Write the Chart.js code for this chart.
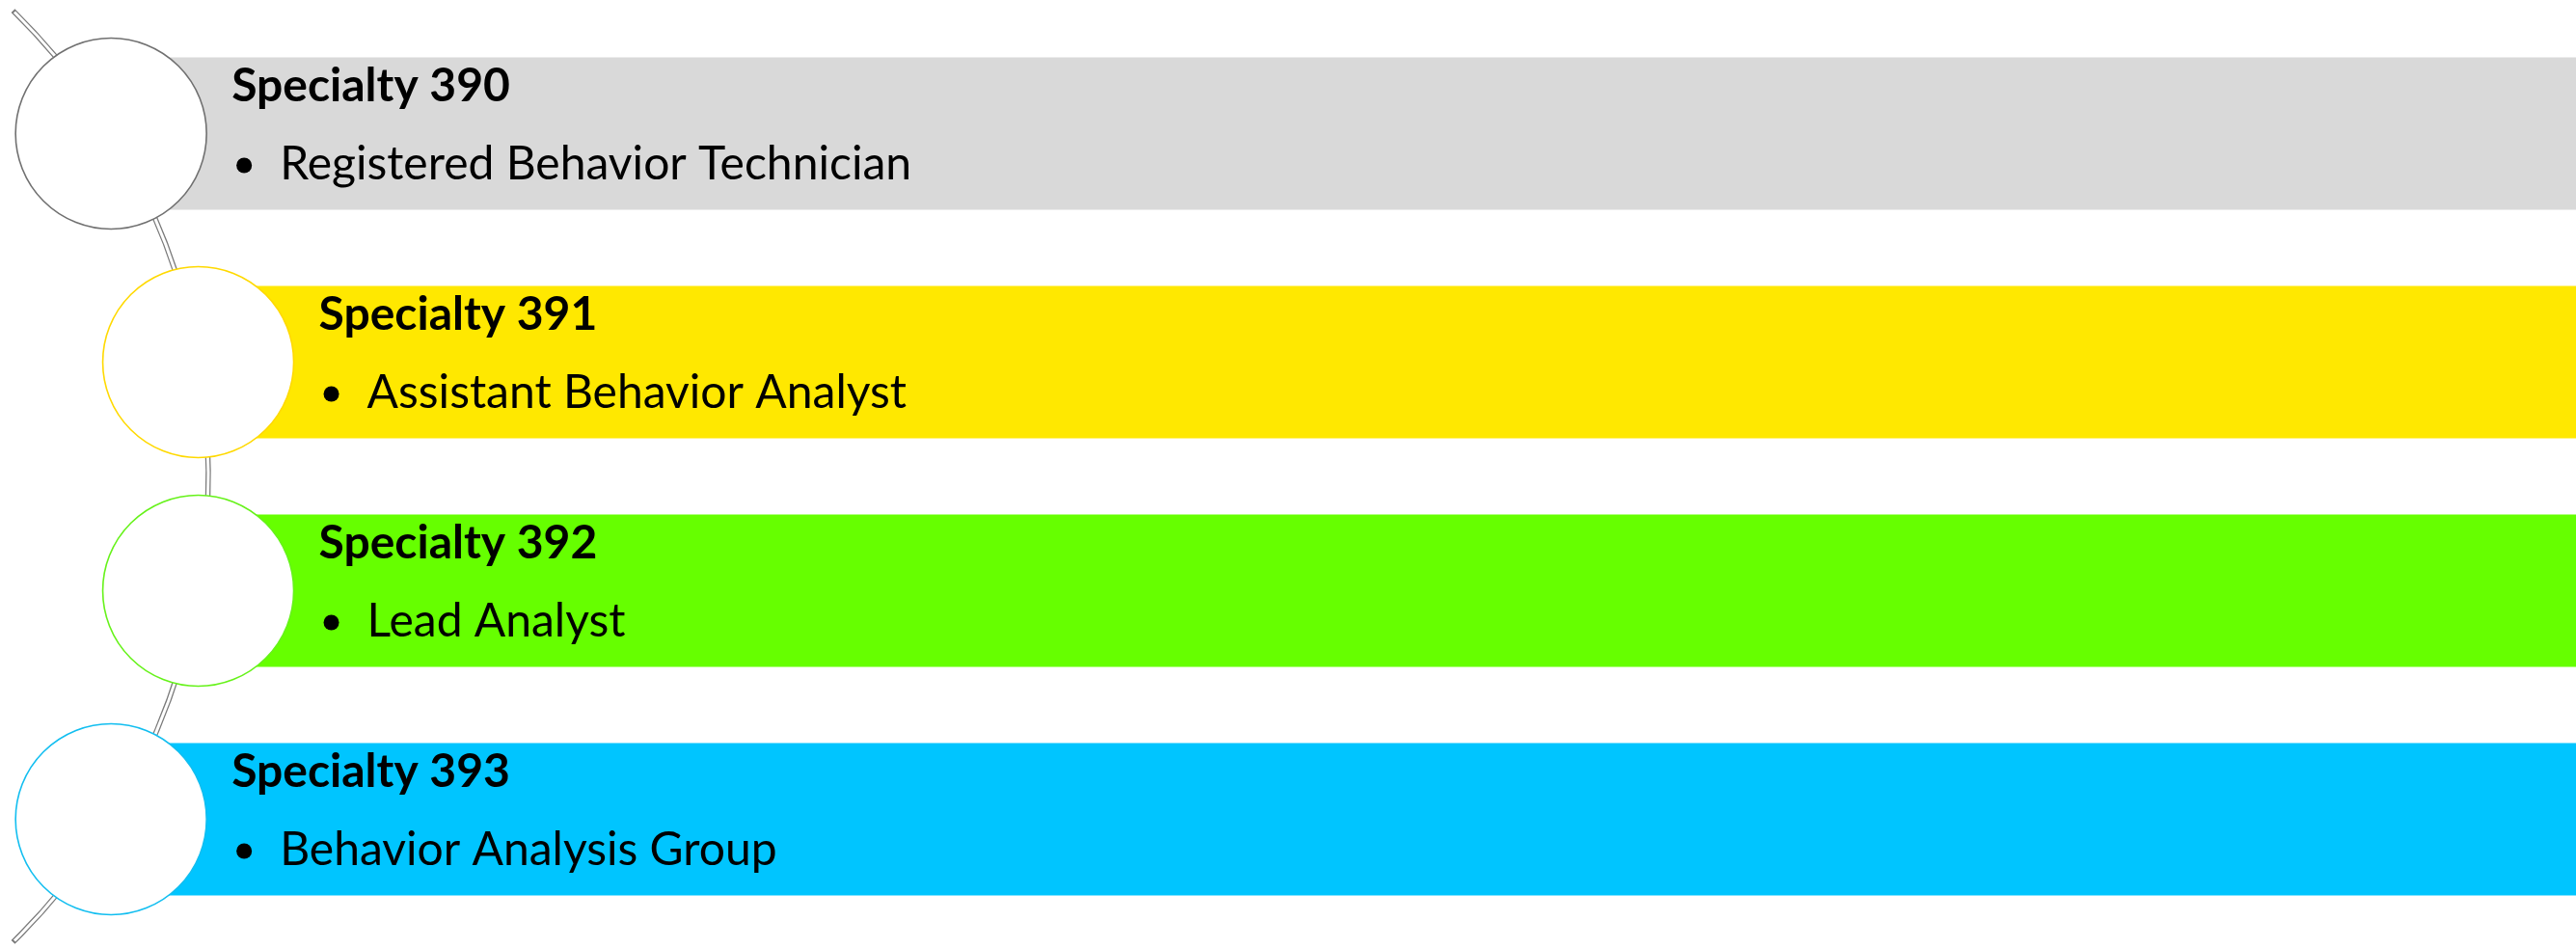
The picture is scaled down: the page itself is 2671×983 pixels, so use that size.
<!DOCTYPE html>
<html>
<head>
<meta charset="utf-8">
<title>Specialty list</title>
<script src="https://cdn.jsdelivr.net/npm/chart.js@4.4.1/dist/chart.umd.min.js"></script>
<style>
  html, body { margin: 0; padding: 0; background: #ffffff; }
  #wrap { width: 2671px; height: 983px; }
</style>
</head>
<body>
<div id="wrap"><canvas id="myChart" width="2671" height="983"></canvas></div>
<script>
// Data

var categories = ["Specialty 390", "Specialty 391", "Specialty 392", "Specialty 393"];
var items = ["Registered Behavior Technician", "Assistant Behavior Analyst", "Lead Analyst", "Behavior Analysis Group"];
// every band runs the full width
var bandValues = [1, 1, 1, 1];

var barColors = ["#D9D9D9", "#FFE800", "#66FF00", "#00C5FF"];
var ringColors = ["#707070", "#FFD900", "#66F21A", "#12BEF0"];

// Layout of the curved spine
var ARC_R = 677;
var ARC_CX = -461;
var ARC_SPAN = 45.5 * Math.PI / 180;
var CIRCLE_R = 99;

function spineX(chart, y) {
  var area = chart.chartArea;
  var cy = (area.top + area.bottom) / 2;
  var dy = y - cy;
  return ARC_CX + Math.sqrt(ARC_R * ARC_R - dy * dy);
}

var listPlugin = {
  id: "curvedList",
  afterUpdate: function(chart) {
    // bands start at the middle of their circle
    var meta = chart.getDatasetMeta(0);
    meta.data.forEach(function(bar) {
      bar.base = spineX(chart, bar.y);
    });
  },
  beforeDatasetsDraw: function(chart) {
    var ctx = chart.ctx;
    var area = chart.chartArea;
    var cy = (area.top + area.bottom) / 2;
    ctx.save();
    ctx.beginPath();
    ctx.arc(ARC_CX, cy, ARC_R, -ARC_SPAN, ARC_SPAN);
    ctx.lineWidth = 5.5;
    ctx.strokeStyle = "#7a7a7a";
    ctx.stroke();
    ctx.beginPath();
    ctx.arc(ARC_CX, cy, ARC_R, -ARC_SPAN + 0.003, ARC_SPAN - 0.003);
    ctx.lineWidth = 3;
    ctx.strokeStyle = "#ffffff";
    ctx.stroke();
    ctx.restore();
  },
  afterDatasetsDraw: function(chart) {
    var ctx = chart.ctx;
    var meta = chart.getDatasetMeta(0);
    ctx.save();
    meta.data.forEach(function(bar, i) {
      var cx = spineX(chart, bar.y);
      var y = bar.y;

      // circle
      ctx.beginPath();
      ctx.arc(cx, y, CIRCLE_R, 0, Math.PI * 2);
      ctx.fillStyle = "#ffffff";
      ctx.fill();
      ctx.lineWidth = 1.6;
      ctx.strokeStyle = ringColors[i];
      ctx.stroke();

      // title
      ctx.fillStyle = "#000000";
      ctx.textBaseline = "alphabetic";
      ctx.textAlign = "left";
      ctx.font = "bold 48px Lato";
      ctx.fillText(categories[i], cx + 125, y - 34);

      // bullet + item
      ctx.beginPath();
      ctx.arc(cx + 138, y + 33, 8, 0, Math.PI * 2);
      ctx.fill();
      ctx.font = "48px Lato";
      ctx.fillText(items[i], cx + 175, y + 47);
    });
    ctx.restore();
  }
};

// Graph

var ctx = document.getElementById("myChart").getContext("2d");

var chart = new Chart(ctx, {
  type: "bar",
  data: {
    labels: categories,
    datasets: [{
      label: "Specialty",
      data: bandValues,
      backgroundColor: barColors,
      borderWidth: 0,
      barPercentage: 158 / 237,
      categoryPercentage: 1
    }]
  },
  options: {
    indexAxis: "y",
    responsive: false,
    animation: false,
    devicePixelRatio: 1,
    layout: { padding: { top: 20, bottom: 15, left: 0, right: 0 } },
    scales: {
      x: { display: false, min: 0, max: 1 },
      y: { display: false }
    },
    plugins: {
      legend: { display: false },
      tooltip: { enabled: false }
    }
  },
  plugins: [listPlugin]
});
</script>
</body>
</html>
